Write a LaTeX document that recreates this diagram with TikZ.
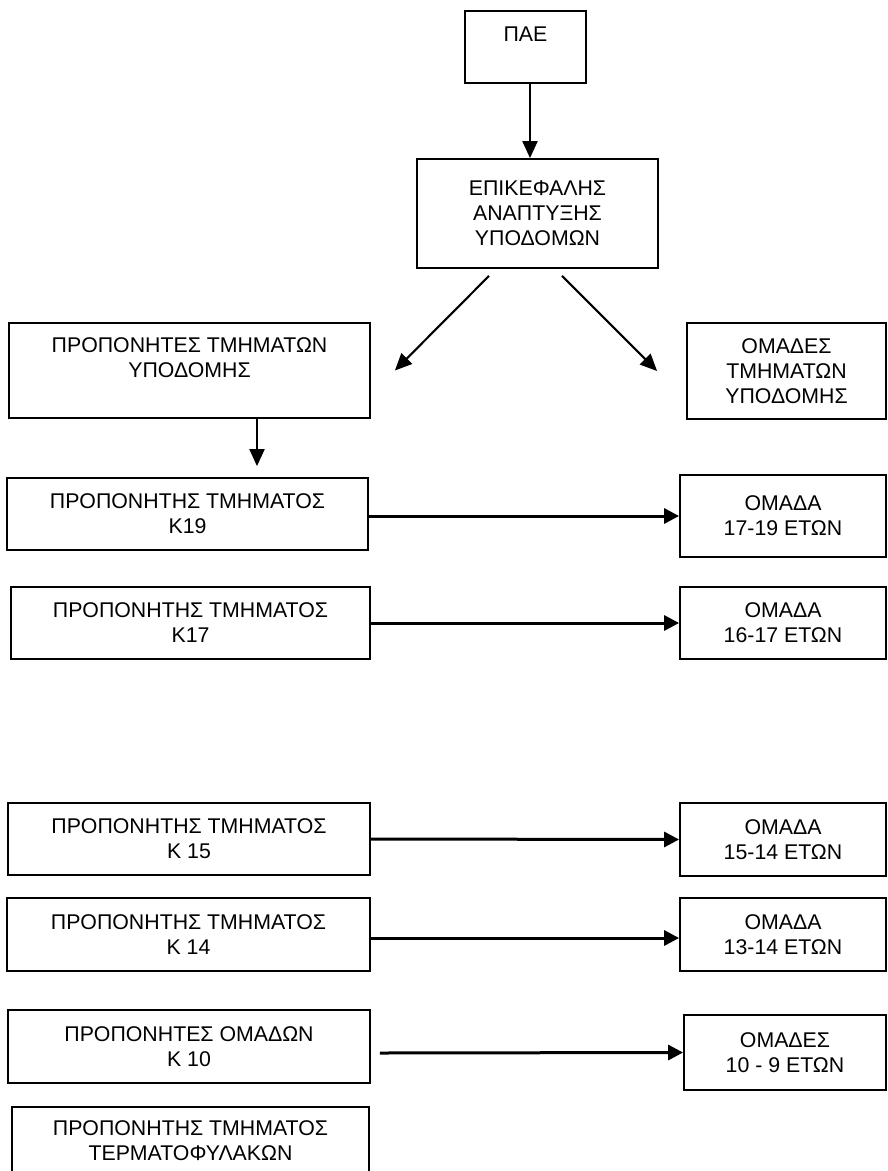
\documentclass[tikz,border=0pt]{standalone}
\usepackage{fontspec}
\setmainfont{Liberation Sans}
\usetikzlibrary{arrows.meta}

\begin{document}
\begin{tikzpicture}
	[x=1pt, y=-1pt,
		font=\fontsize{21.3}{25}\selectfont,
		box/.style		={rectangle
									, draw
									, line width=1.8pt
									, align=center
									, inner sep=0pt
									},
		coach/.style	={box
									, minimum width=361pt
									, minimum height=72pt
									},
		team/.style		={box
									, minimum width=206pt
									, minimum height=72pt
									},
		line/.style		={draw
									, line width=2.1pt
									, -{Triangle[length=17pt, width=15pt]}
									},
		link/.style		={draw
									, line width=3pt
									, -{Triangle[length=15pt, width=15pt]}
									}
	]
\clip (0,0) rectangle (887,1171);
% top of the tree
\node [box, minimum width=121pt, minimum height=72pt]	(pae)		at (525.5,47)		{ΠΑΕ\\\mbox{}};
\node [box, minimum width=241pt, minimum height=109pt]	(head)		at (537.5,213.5)	{ΕΠΙΚΕΦΑΛΗΣ\\ΑΝΑΠΤΥΞΗΣ\\ΥΠΟΔΟΜΩΝ};
\node [coach, minimum height=95pt]						(coaches)	at (189.5,370.5)	{ΠΡΟΠΟΝΗΤΕΣ ΤΜΗΜΑΤΩΝ\\ΥΠΟΔΟΜΗΣ\\\mbox{}};
\node [box, minimum width=199pt, minimum height=96pt]	(teams)		at (786.5,371)		{ΟΜΑΔΕΣ\\ΤΜΗΜΑΤΩΝ\\ΥΠΟΔΟΜΗΣ};
% coaches (left) and teams (right)
\node [coach]						(k19)	at (187.5,514)		{ΠΡΟΠΟΝΗΤΗΣ ΤΜΗΜΑΤΟΣ\\Κ19};
\node [team, minimum height=82pt]	(u19)	at (783,516)		{ΟΜΑΔΑ\\17-19 ΕΤΩΝ};
\node [coach, minimum width=359pt]	(k17)	at (190.5,623)		{ΠΡΟΠΟΝΗΤΗΣ ΤΜΗΜΑΤΟΣ\\Κ17};
\node [team]						(u17)	at (783,623)		{ΟΜΑΔΑ\\16-17 ΕΤΩΝ};
\node [coach, minimum width=362pt]	(k15)	at (189,839)		{ΠΡΟΠΟΝΗΤΗΣ ΤΜΗΜΑΤΟΣ\\Κ 15};
\node [team, minimum height=73pt]	(u15)	at (783,839.5)		{ΟΜΑΔΑ\\15-14 ΕΤΩΝ};
\node [coach, minimum width=363pt, minimum height=73pt]	(k14)	at (188.5,934.5)	{ΠΡΟΠΟΝΗΤΗΣ ΤΜΗΜΑΤΟΣ\\Κ 14};
\node [team, minimum height=73pt]	(u14)	at (783,934.5)		{ΟΜΑΔΑ\\13-14 ΕΤΩΝ};
\node [coach, minimum width=362pt, minimum height=73pt]	(k10)	at (189,1046.5)		{ΠΡΟΠΟΝΗΤΕΣ ΟΜΑΔΩΝ\\Κ 10};
\node [team, minimum width=202pt, minimum height=75pt]	(u10)	at (785,1052.5)		{ΟΜΑΔΕΣ\\10 - 9 ΕΤΩΝ};
\node [coach, minimum width=357pt, minimum height=68pt]	(gk)	at (190.5,1141)		{ΠΡΟΠΟΝΗΤΗΣ ΤΜΗΜΑΤΟΣ\\ΤΕΡΜΑΤΟΦΥΛΑΚΩΝ};

\begin{scope}[every path/.style=line]
	\path	([xshift=4.5pt]pae.south)					-- ([xshift=-7.5pt]head.north);
	\path	([xshift=-48.5pt, yshift=-7pt]head.south)	-- ([xshift=24pt]coaches.east);
	\path	([xshift=24.5pt, yshift=-7pt]head.south)	-- ([xshift=-29pt]teams.west);
	\path	([xshift=67.5pt]coaches.south)				-- ([xshift=69.5pt, yshift=11pt]k19.north);
\end{scope}
\begin{scope}[every path/.style=link]
	\path	(k19.east |- u19.west)						-- (u19.west);
	\path	(k17.east)									-- (u17.west);
	\path	(k15.east)									-- (u15.west);
	\path	([yshift=-3.5pt]k14.east)					-- ([yshift=-3.5pt]u14.west);
	\path	([xshift=9pt, yshift=-6.5pt]k10.east)		-- (u10.west);
\end{scope}
\end{tikzpicture}
\end{document}
